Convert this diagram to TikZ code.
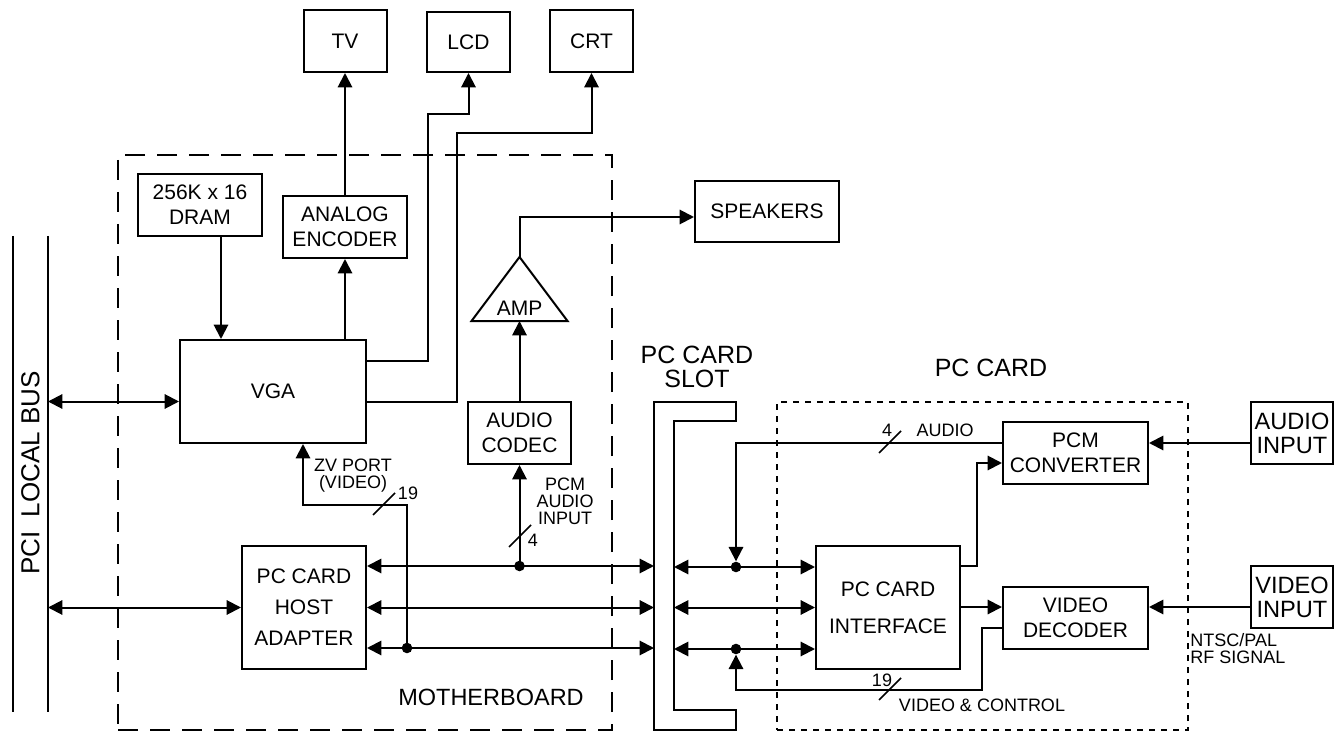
\documentclass[tikz,border=0pt]{standalone}
\usepackage{fontspec}
\setmainfont{Liberation Sans}
\usetikzlibrary{positioning, arrows.meta, calc}
\definecolor{ink}{HTML}{000000}
\tikzset{
  >={Triangle[length=7.2pt,width=7.2pt]},
  every node/.style = {text=ink},
  hwbox/.style  = {draw=ink, line width=1pt, fill=white, align=center, inner sep=0pt,
                   font=\fontsize{10.5}{12.5}\selectfont},
  hwio/.style   = {hwbox, font=\fontsize{11.8}{12}\selectfont},
  hwgo/.style   = {->, draw=ink, line width=1pt},
  hwboth/.style = {<->, draw=ink, line width=1pt},
  hwline/.style = {draw=ink, line width=1pt},
  hwbar/.style  = {draw=ink, line width=0.8pt},
  hwlab/.style  = {font=\fontsize{9}{8.5}\selectfont, align=center, inner sep=0pt},
  hwbig/.style  = {font=\fontsize{12.5}{12}\selectfont, align=center, inner sep=0pt},
  hwdot/.style  = {circle, fill=ink, inner sep=0pt, minimum size=5.3pt},
  hwmb/.style   = {draw=ink, line width=1pt, dash pattern=on 10pt off 6pt, inner sep=0pt, outer sep=0pt},
  hwcard/.style = {draw=ink, line width=1pt, dash pattern=on 3pt off 3pt, inner sep=0pt, outer sep=0pt},
  hwhole/.style = {inner sep=0pt, outer sep=0pt},
}

\begin{document}
\begin{tikzpicture}[x=0.5pt, y=-0.5pt]
\useasboundingbox (0,0) rectangle (1340,733);

\node[hwmb, minimum width=247pt, minimum height=287.5pt] (mb) at (365,442.5) {};
\node[hwcard, minimum width=205.5pt, minimum height=164pt] (card) at (982.5,566) {};

\node[hwhole, minimum width=17.5pt, minimum height=238pt] (pci) at (30.5,474) {};
\draw[hwline] (pci.north west) -- (pci.south west) (pci.north east) -- (pci.south east);
\node[hwbig, rotate=90, font=\fontsize{13}{13}\selectfont] (pcilab) at (30.5,473) {PCI\ \ LOCAL BUS};

\node[hwbox, minimum width=41.5pt, minimum height=31pt] (tv)  at (345,41) {TV};
\node[hwbox, minimum width=41.5pt, minimum height=30pt] (lcd) at (468.5,42) {LCD};
\node[hwbox, minimum width=41.5pt, minimum height=31pt] (crt) at (591.5,41) {CRT};
\node[hwbox, minimum width=62pt, minimum height=31pt] (dram) at (200,205) {256K x 16\\DRAM};
\node[hwbox, minimum width=62pt, minimum height=31pt] (enc) at (345,227) {ANALOG\\ENCODER};
\node[hwbox, minimum width=93pt, minimum height=51.5pt] (vga) at (273,391.5) {VGA};
\node[hwbox, minimum width=62pt, minimum height=61.5pt, font=\fontsize{10.5}{15.5}\selectfont]
  (host) at (304,607.5) {PC CARD\\HOST\\ADAPTER};
\node[hwbox, minimum width=51.5pt, minimum height=31pt] (codec) at (519.5,433) {AUDIO\\CODEC};
\node[hwbox, minimum width=72pt, minimum height=30.5pt] (spk) at (767,211.5) {SPEAKERS};

\coordinate (amptop) at (519.5,257);
\coordinate (ampbase) at (519.5,321);
\draw[hwline, line join=miter] (amptop) -- ++(48,64) -- ++(-96,0) -- cycle;
\node[font=\fontsize{10.5}{12}\selectfont, inner sep=0pt] (amp) at (519.5,308) {AMP};

\node[hwhole, minimum width=41pt, minimum height=164pt] (slot) at (695,566) {};
\draw[hwline] (slot.north west) -- (slot.north east) -- ++(0,19) -- ++(-62,0)
  |- ([yshift=10pt]slot.south east) -- (slot.south east) -- (slot.south west) -- cycle;
\coordinate (slotin) at ([xshift=10pt]slot.west);

\node[hwbox, minimum width=72pt, minimum height=61.5pt, font=\fontsize{10.5}{18.5}\selectfont]
  (pcif) at (888,607.5) {PC CARD\\INTERFACE};
\node[hwbox, minimum width=72.5pt, minimum height=31pt] (pcm) at (1075.5,453) {PCM\\CONVERTER};
\node[hwbox, minimum width=72.5pt, minimum height=31pt] (vdec) at (1075.5,618) {VIDEO\\DECODER};
\node[hwio, minimum width=41pt, minimum height=31pt] (ain) at (1292,433) {AUDIO\\INPUT};
\node[hwio, minimum width=41pt, minimum height=31pt] (vin) at (1292,597) {VIDEO\\INPUT};

\node[hwbig] (slotlab) at (697,367) {PC CARD\\SLOT};
\node[hwbig] (cardlab) at (991,368) {PC CARD};
\node[hwbig, font=\fontsize{11.75}{12}\selectfont] (mblab) at (491,697) {MOTHERBOARD};

\draw[hwboth] ([yshift=-5pt]vga.west -| pci.east) -- ([yshift=-5pt]vga.west);
\draw[hwboth] (host.west -| pci.east) -- (host.west);
\draw[hwgo] ([xshift=10.5pt]dram.south) -- ([xshift=10.5pt]dram.south |- vga.north);
\draw[hwgo] (vga.north -| enc.south) -- (enc.south);
\draw[hwgo] (enc.north) -- (enc.north |- tv.south);
\draw[hwgo] ([yshift=15.25pt]vga.east) -- ++(61,0) -- ++(0,-247) -| (lcd.south);
\draw[hwgo] ([yshift=-5pt]vga.east) -- ++(90,0) -- ++(0,-268) -| (crt.south);

\foreach \dy in {20.75,0,-20.25}
  \draw[hwboth] ([yshift=\dy pt]host.east) -- ([yshift=\dy pt]host.east -| slot.west);
\foreach \dy in {20.25,0,-20.75}
  \draw[hwboth] ([yshift=\dy pt]pcif.west -| slotin) -- ([yshift=\dy pt]pcif.west);

\node[hwdot] (audot) at ([yshift=20.75pt]host.east -| codec.south) {};
\node[hwdot] (zvdot) at (407,648) {};
\node[hwdot] (cdota) at ([yshift=20.25pt]pcif.west -| slot.east) {};
\node[hwdot] (cdotb) at ([yshift=-20.75pt]pcif.west -| slot.east) {};

\draw[hwgo] (zvdot.center) -- ++(0,-143) -| ([xshift=15pt]vga.south);
\draw[hwgo] (audot.center) -- (codec.south);
\draw[hwgo] (codec.north) -- (ampbase);
\draw[hwgo] (amptop) |- ([yshift=-2.75pt]spk.west);

\draw[hwgo] ([yshift=5pt]pcm.west) -| (cdota);
\draw[hwgo] ([yshift=-5pt]vdec.west) -- ++(-20,0) -- ++(0,62) -| (cdotb);
\draw[hwgo] ([yshift=20.75pt]pcif.east) -- ++(16,0) |- ([yshift=-5pt]pcm.west);
\draw[hwgo] ([yshift=5.5pt]vdec.west -| pcif.east) -- ([yshift=5.5pt]vdec.west);
\draw[hwgo] ([yshift=-5pt]ain.west) -- ([yshift=5pt]pcm.east);
\draw[hwgo] ([yshift=-5pt]vin.west) -- ([yshift=5.5pt]vdec.east);

\foreach \bx/\by in {384/504, 520/536, 890/442, 890/689}
  \draw[hwbar] (\bx-11,\by+11) -- (\bx+11,\by-11);

\node[hwlab] (zvlab)  at (353,476) {ZV PORT\\(VIDEO)};
\node[hwlab] (zvn)    at (408,493) {19};
\node[hwlab] (pcmlab) at (565,501) {PCM\\AUDIO\\INPUT};
\node[hwlab] (pcmn)   at (533,540) {4};
\node[hwlab] (audn)   at (887,430) {4};
\node[hwlab] (audlab) at (945,430) {AUDIO};
\node[hwlab] (vidn)   at (882,680) {19};
\node[hwlab] (vidlab) at (982,705) {VIDEO \& CONTROL};
\node[hwlab, align=left, anchor=west] (rflab) at (1190,648.5) {NTSC/PAL\\RF SIGNAL};
\end{tikzpicture}
\end{document}
